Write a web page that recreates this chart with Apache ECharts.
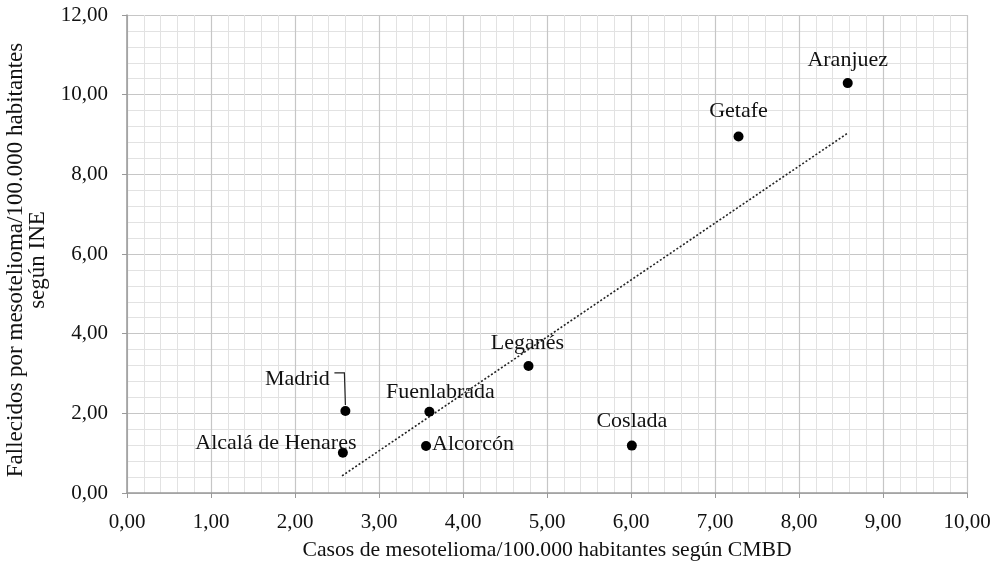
<!DOCTYPE html>
<html>
<head>
<meta charset="utf-8">
<script src="https://cdn.jsdelivr.net/npm/echarts@6/dist/echarts.min.js"></script>
<style>html,body{margin:0;padding:0;background:#fff}#c{width:1002px;height:565px}</style>
</head>
<body>
<div id="c"></div>
<script>
var names = ['Madrid','Alcalá de Henares','Fuenlabrada','Alcorcón','Leganés','Coslada','Getafe','Aranjuez'];
var xVals = [2.60, 2.57, 3.60, 3.56, 4.78, 6.01, 7.28, 8.58];
var yVals = [2.06, 1.01, 2.04, 1.18, 3.19, 1.19, 8.95, 10.29];
var trendX = [2.56, 8.57];
var trendY = [0.43, 9.02];
var xTitle = 'Casos de mesotelioma/100.000 habitantes según CMBD';
var yTitle = 'Fallecidos por mesotelioma/100.000 habitantes\nsegún INE';

var labelOffsets = {
  'Madrid': [-48, -32],
  'Alcalá de Henares': [-67, -10],
  'Fuenlabrada': [11, -20],
  'Alcorcón': [47, -2],
  'Leganés': [-1, -23],
  'Coslada': [0, -24],
  'Getafe': [0, -25],
  'Aranjuez': [0, -23]
};

var FONT = 'Liberation Serif';
var TXT = '#111';
var fmt = function (v) { return v.toFixed(2).replace('.', ','); };

var pts = names.map(function (n, i) {
  return { name: n, value: [xVals[i], yVals[i]], label: { offset: labelOffsets[n] } };
});

var trend = trendX.map(function (x, i) { return [x, trendY[i]]; });

var axisCommon = {
  min: 0,
  axisLine: { show: true, lineStyle: { color: '#999', width: 1.5 } },
  axisTick: { show: true, inside: false, length: 5, lineStyle: { color: '#999' } },
  axisLabel: { fontFamily: FONT, fontSize: 21, color: TXT, formatter: fmt },
  splitLine: { show: true, lineStyle: { color: '#c6c6c6', width: 1.2 } },
  minorTick: { show: false, splitNumber: 5 },
  minorSplitLine: { show: true, lineStyle: { color: '#e2e2e2', width: 1 } },
  nameLocation: 'middle'
};

var option = {
  animation: false,
  backgroundColor: '#fff',
  grid: { left: 127, right: 35, top: 15, bottom: 72, containLabel: false, outerBoundsMode: 'none' },
  xAxis: Object.assign({}, axisCommon, {
    type: 'value', max: 10, interval: 1,
    name: xTitle, nameGap: 46,
    nameTextStyle: { fontFamily: FONT, fontSize: 21.7, color: TXT },
    axisLabel: Object.assign({}, axisCommon.axisLabel, { margin: 19 })
  }),
  yAxis: Object.assign({}, axisCommon, {
    type: 'value', max: 12, interval: 2,
    name: yTitle, nameGap: 71,
    nameTextStyle: { fontFamily: FONT, fontSize: 23, color: TXT, lineHeight: 22, padding: [0, 12, 0, 0] },
    axisLabel: Object.assign({}, axisCommon.axisLabel, { margin: 19 })
  }),
  series: [
    {
      type: 'line',
      data: trend,
      symbol: 'none',
      lineStyle: { color: '#222', width: 1.6, type: [2, 2] },
      silent: true,
      z: 3
    },
    {
      type: 'scatter',
      data: pts,
      symbol: 'circle',
      symbolSize: 10,
      itemStyle: { color: '#000', opacity: 1 },
      label: {
        show: true,
        position: 'inside',
        formatter: '{b}',
        fontFamily: FONT,
        fontSize: 22,
        color: TXT
      },
      z: 4
    }
  ]
};

var chart = echarts.init(document.getElementById('c'), null, { renderer: 'canvas' });
chart.setOption(option);

// leader line for the Madrid label, placed from the data point through the axes
var p = chart.convertToPixel({ gridIndex: 0 }, [xVals[0], yVals[0]]);
chart.setOption({
  graphic: [{
    type: 'polyline',
    shape: { points: [[p[0] - 11, p[1] - 38], [p[0] - 1, p[1] - 38], [p[0], p[1] - 6]] },
    style: { stroke: '#222', lineWidth: 1.2, fill: null },
    z: 10
  }]
});
</script>
</body>
</html>
